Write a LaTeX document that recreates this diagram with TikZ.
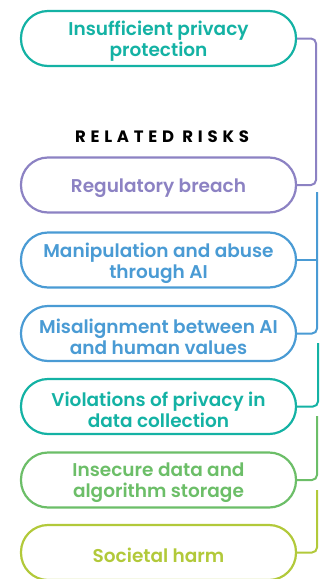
\documentclass[tikz,border=0pt]{standalone}
\usepackage{fontspec}
\setmainfont{Poppins}[BoldFont={Poppins SemiBold}]
\newfontfamily\headfont{Poppins}[LetterSpace=29]
\definecolor{cteal}{HTML}{14B2A4}
\definecolor{cpurple}{HTML}{8C82C3}
\definecolor{cblue}{HTML}{4A9BD4}
\definecolor{cgreen}{HTML}{6CBE68}
\definecolor{cyell}{HTML}{B2C93A}
\begin{document}
\begin{tikzpicture}[x=1pt,y=-1pt,
  riskbox/.style={draw=#1, line width=2.2pt, rounded corners=27pt,
    minimum width=275pt, minimum height=55pt, inner sep=0pt},
  risktext/.style={text=#1, inner sep=0pt, align=center, yshift=-3pt,
    font=\bfseries\fontsize{18.5}{21}\selectfont},
  link/.style={draw=#1, line width=2pt, rounded corners=5pt}]
\useasboundingbox (0,0) rectangle (320,579);
\node[riskbox=cteal] (b1) at (158.5,38.5) {};
\node[risktext=cteal] (t1) at (b1) {Insufficient privacy\\protection};
\node[font=\headfont\bfseries\fontsize{16.5}{17}\selectfont] (h) at (162,136.5) {RELATED RISKS};
\node[riskbox=cpurple] (b2) at (158.5,185) {};
\node[risktext=cpurple] (t2) at (b2) {Regulatory breach};
\node[riskbox=cblue] (b3) at (158.5,260) {};
\node[risktext=cblue] (t3) at (b3) {Manipulation and abuse\\through AI};
\node[riskbox=cblue] (b4) at (158.5,333.5) {};
\node[risktext=cblue] (t4) at (b4) {Misalignment between AI\\and human values};
\node[riskbox=cteal] (b5) at (158.5,406.5) {};
\node[risktext=cteal] (t5) at (b5) {Violations of privacy in\\data collection};
\node[riskbox=cgreen] (b6) at (158.5,480) {};
\node[risktext=cgreen] (t6) at (b6) {Insecure data and\\algorithm storage};
\node[riskbox=cyell] (b7) at (158.5,552.5) {};
\node[risktext=cyell] (t7) at (b7) {Societal harm};
\coordinate (s3) at (317,192);
\coordinate (s5) at (318,343);
\coordinate (s6) at (317,416);
\coordinate (s7) at (317,490);
\draw[link=cpurple] (b1.east) -- (316,38.5) -- (316,185) -- (b2.east);
\draw[link=cblue] (s3) -- (317,333.5) -- (b4.east);
\draw[link=cblue] (b3.east) -- (317,260);
\draw[link=cteal] (s5) -- (318,406.5) -- (b5.east);
\draw[link=cgreen] (s6) -- (317,480) -- (b6.east);
\draw[link=cyell] (s7) -- (317,552.5) -- (b7.east);
\end{tikzpicture}
\end{document}
